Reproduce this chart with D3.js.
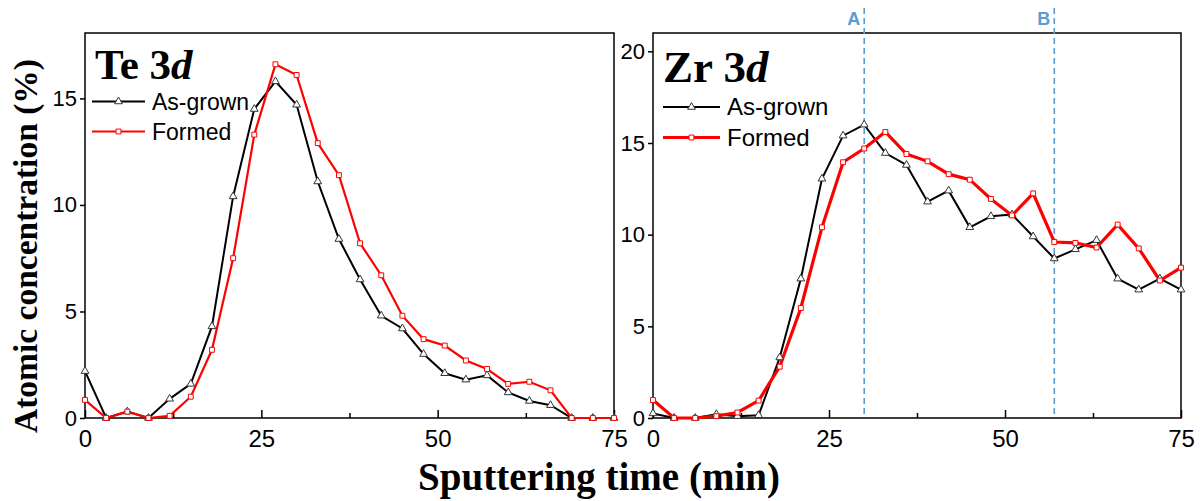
<!DOCTYPE html>
<html><head><meta charset="utf-8">
<script src="https://cdn.jsdelivr.net/npm/d3@7"></script>
<style>body{margin:0;background:#fff}svg{display:block}</style>
</head><body>
<svg id="chart" width="1201" height="501"></svg>
<script>
// ---------- data ----------
const time = [0,3,6,9,12,15,18,21,24,27,30,33,36,39,42,45,48,51,54,57,60,63,66,69,72,75];
const teAsGrown = [2.2,0,0.3,0,0.9,1.6,4.3,10.4,14.5,15.8,14.7,11.1,8.4,6.5,4.8,4.2,3.0,2.1,1.8,2.0,1.2,0.8,0.6,0,0,0];
const teFormed  = [0.85,0,0.3,0,0.1,1.0,3.2,7.5,13.3,16.6,16.1,12.9,11.4,8.2,6.7,4.8,3.7,3.4,2.7,2.3,1.6,1.7,1.3,0,0,0];
const zrAsGrown = [0.25,0,0,0.2,0.1,0.15,3.3,7.6,13.05,15.4,16.0,14.45,13.8,11.8,12.4,10.4,11.0,11.1,9.9,8.7,9.2,9.7,7.6,7.0,7.6,7.0];
const zrFormed  = [0.98,0,0,0.1,0.3,0.95,2.8,6.0,10.4,13.95,14.7,15.6,14.4,14.0,13.3,13.0,11.95,11.05,12.25,9.6,9.55,9.3,10.55,9.25,7.5,8.2];
const xTicks = [0,25,50,75];
const xMinorTicks = [12.5,37.5,62.5];
const teYTicks = [0,5,10,15];
const zrYTicks = [0,5,10,15,20];
const markerLines = [{label:"A", t:30},{label:"B", t:57}];
const seriesNames = ["As-grown","Formed"];

const svg = d3.select("#chart");

function panel(cfg){
  const x = d3.scaleLinear().domain([0,75]).range([cfg.x0, cfg.x1]);
  const y = d3.scaleLinear().domain([0,cfg.ymax]).range([418,33]);
  const g = svg.append("g");
  // frame
  g.append("rect").attr("x",cfg.x0).attr("y",33).attr("width",cfg.x1-cfg.x0).attr("height",418-33)
   .attr("fill","none").attr("stroke","#000").attr("stroke-width",1.5);
  // x axis
  const xa = g.append("g").attr("transform","translate(0,418)")
    .call(d3.axisBottom(x).tickValues(xTicks).tickSize(-8).tickPadding(12).tickFormat(d3.format("d")));
  xa.select(".domain").remove();
  xa.selectAll("line").attr("stroke-width",1.5);
  xa.selectAll("text").attr("font-family","Liberation Sans, Arial, sans-serif").attr("font-size",24).attr("fill","#000");
  const xm = g.append("g").attr("transform","translate(0,418)")
    .call(d3.axisBottom(x).tickValues(xMinorTicks).tickSize(-5).tickFormat(""));
  xm.select(".domain").remove();
  xm.selectAll("line").attr("stroke-width",1.5);
  // y axis
  const ya = g.append("g").attr("transform",`translate(${cfg.x0},0)`)
    .call(d3.axisLeft(y).tickValues(cfg.yTicks).tickSize(5).tickPadding(3).tickFormat(d3.format("d")));
  ya.select(".domain").remove();
  ya.selectAll("line").attr("stroke-width",1.5);
  ya.selectAll("text").attr("font-family","Liberation Sans, Arial, sans-serif").attr("font-size",22).attr("fill","#000");

  // dashed reference lines
  if(cfg.refs){
    cfg.refs.forEach(r=>{
      g.append("line").attr("x1",x(r.t)).attr("x2",x(r.t)).attr("y1",8).attr("y2",418)
       .attr("stroke","#5b9bd5").attr("stroke-width",1.6).attr("stroke-dasharray","6,4");
      g.append("text").attr("x",x(r.t)-4).attr("y",25).attr("text-anchor","end")
       .attr("font-family","Liberation Sans, Arial, sans-serif").attr("font-weight","bold").attr("font-size",18)
       .attr("fill","#5b9bd5").text(r.label);
    });
  }

  const line = d3.line().x((d,i)=>x(time[i])).y(d=>y(d));
  const tri = d3.symbol().type(d3.symbolTriangle).size(26);
  const sq = d3.symbol().type(d3.symbolSquare).size(24);

  // black series
  g.append("path").datum(cfg.a).attr("d",line).attr("fill","none").attr("stroke","#000").attr("stroke-width",2);
  // red series
  g.append("path").datum(cfg.b).attr("d",line).attr("fill","none").attr("stroke","#ff0000").attr("stroke-width",cfg.redW);
  g.selectAll(".ta").data(cfg.a).enter().append("path")
    .attr("transform",(d,i)=>`translate(${x(time[i])},${y(d)})`).attr("d",tri)
    .attr("fill","#fff").attr("stroke","#333").attr("stroke-width",1);
  g.selectAll(".sb").data(cfg.b).enter().append("path")
    .attr("transform",(d,i)=>`translate(${x(time[i])},${y(d)})`).attr("d",sq)
    .attr("fill","#fff").attr("stroke","#ff0000").attr("stroke-width",1);

  // title
  const t = g.append("text").attr("x",cfg.x0+10).attr("y",cfg.titleY)
    .attr("font-family","Liberation Serif, Times New Roman, serif").attr("font-weight","bold")
    .attr("font-size",cfg.titleSize).attr("fill","#000");
  t.append("tspan").text(cfg.title+" 3");
  t.append("tspan").attr("font-style","italic").text("d");

  // legend
  const lg = cfg.legend;
  [0,1].forEach(k=>{
    const ly = lg.ys[k];
    g.append("line").attr("x1",lg.x0).attr("x2",lg.x1).attr("y1",ly).attr("y2",ly)
      .attr("stroke",k===0?"#000":"#ff0000").attr("stroke-width",k===0?2:cfg.redW);
    g.append("path").attr("transform",`translate(${(lg.x0+lg.x1)/2},${ly})`).attr("d",k===0?tri:sq)
      .attr("fill","#fff").attr("stroke",k===0?"#333":"#ff0000").attr("stroke-width",1);
    g.append("text").attr("x",lg.x1+7).attr("y",ly+8)
      .attr("font-family","Liberation Sans, Arial, sans-serif").attr("font-size",lg.size).attr("fill","#000")
      .text(seriesNames[k]);
  });
}

panel({x0:85, x1:614, ymax:18.07, yTicks:teYTicks, a:teAsGrown, b:teFormed, redW:2.2,
  title:"Te", titleY:79, titleSize:43,
  legend:{x0:92,x1:145,ys:[101.5,131.5],size:23}});
panel({x0:653, x1:1181, ymax:21, yTicks:zrYTicks, a:zrAsGrown, b:zrFormed, redW:3.2,
  title:"Zr", titleY:82, titleSize:45, refs:markerLines,
  legend:{x0:663,x1:720,ys:[107,137.5],size:24}});

// axis titles
svg.append("text").attr("transform","translate(37,246) rotate(-90)").attr("text-anchor","middle")
  .attr("font-family","Liberation Serif, Times New Roman, serif").attr("font-weight","bold")
  .attr("font-size",33.5).attr("fill","#000").text("Atomic concentration (%)");
svg.append("text").attr("x",599).attr("y",490).attr("text-anchor","middle")
  .attr("font-family","Liberation Serif, Times New Roman, serif").attr("font-weight","bold")
  .attr("font-size",39).attr("fill","#000").text("Sputtering time (min)");
</script>
</body></html>
